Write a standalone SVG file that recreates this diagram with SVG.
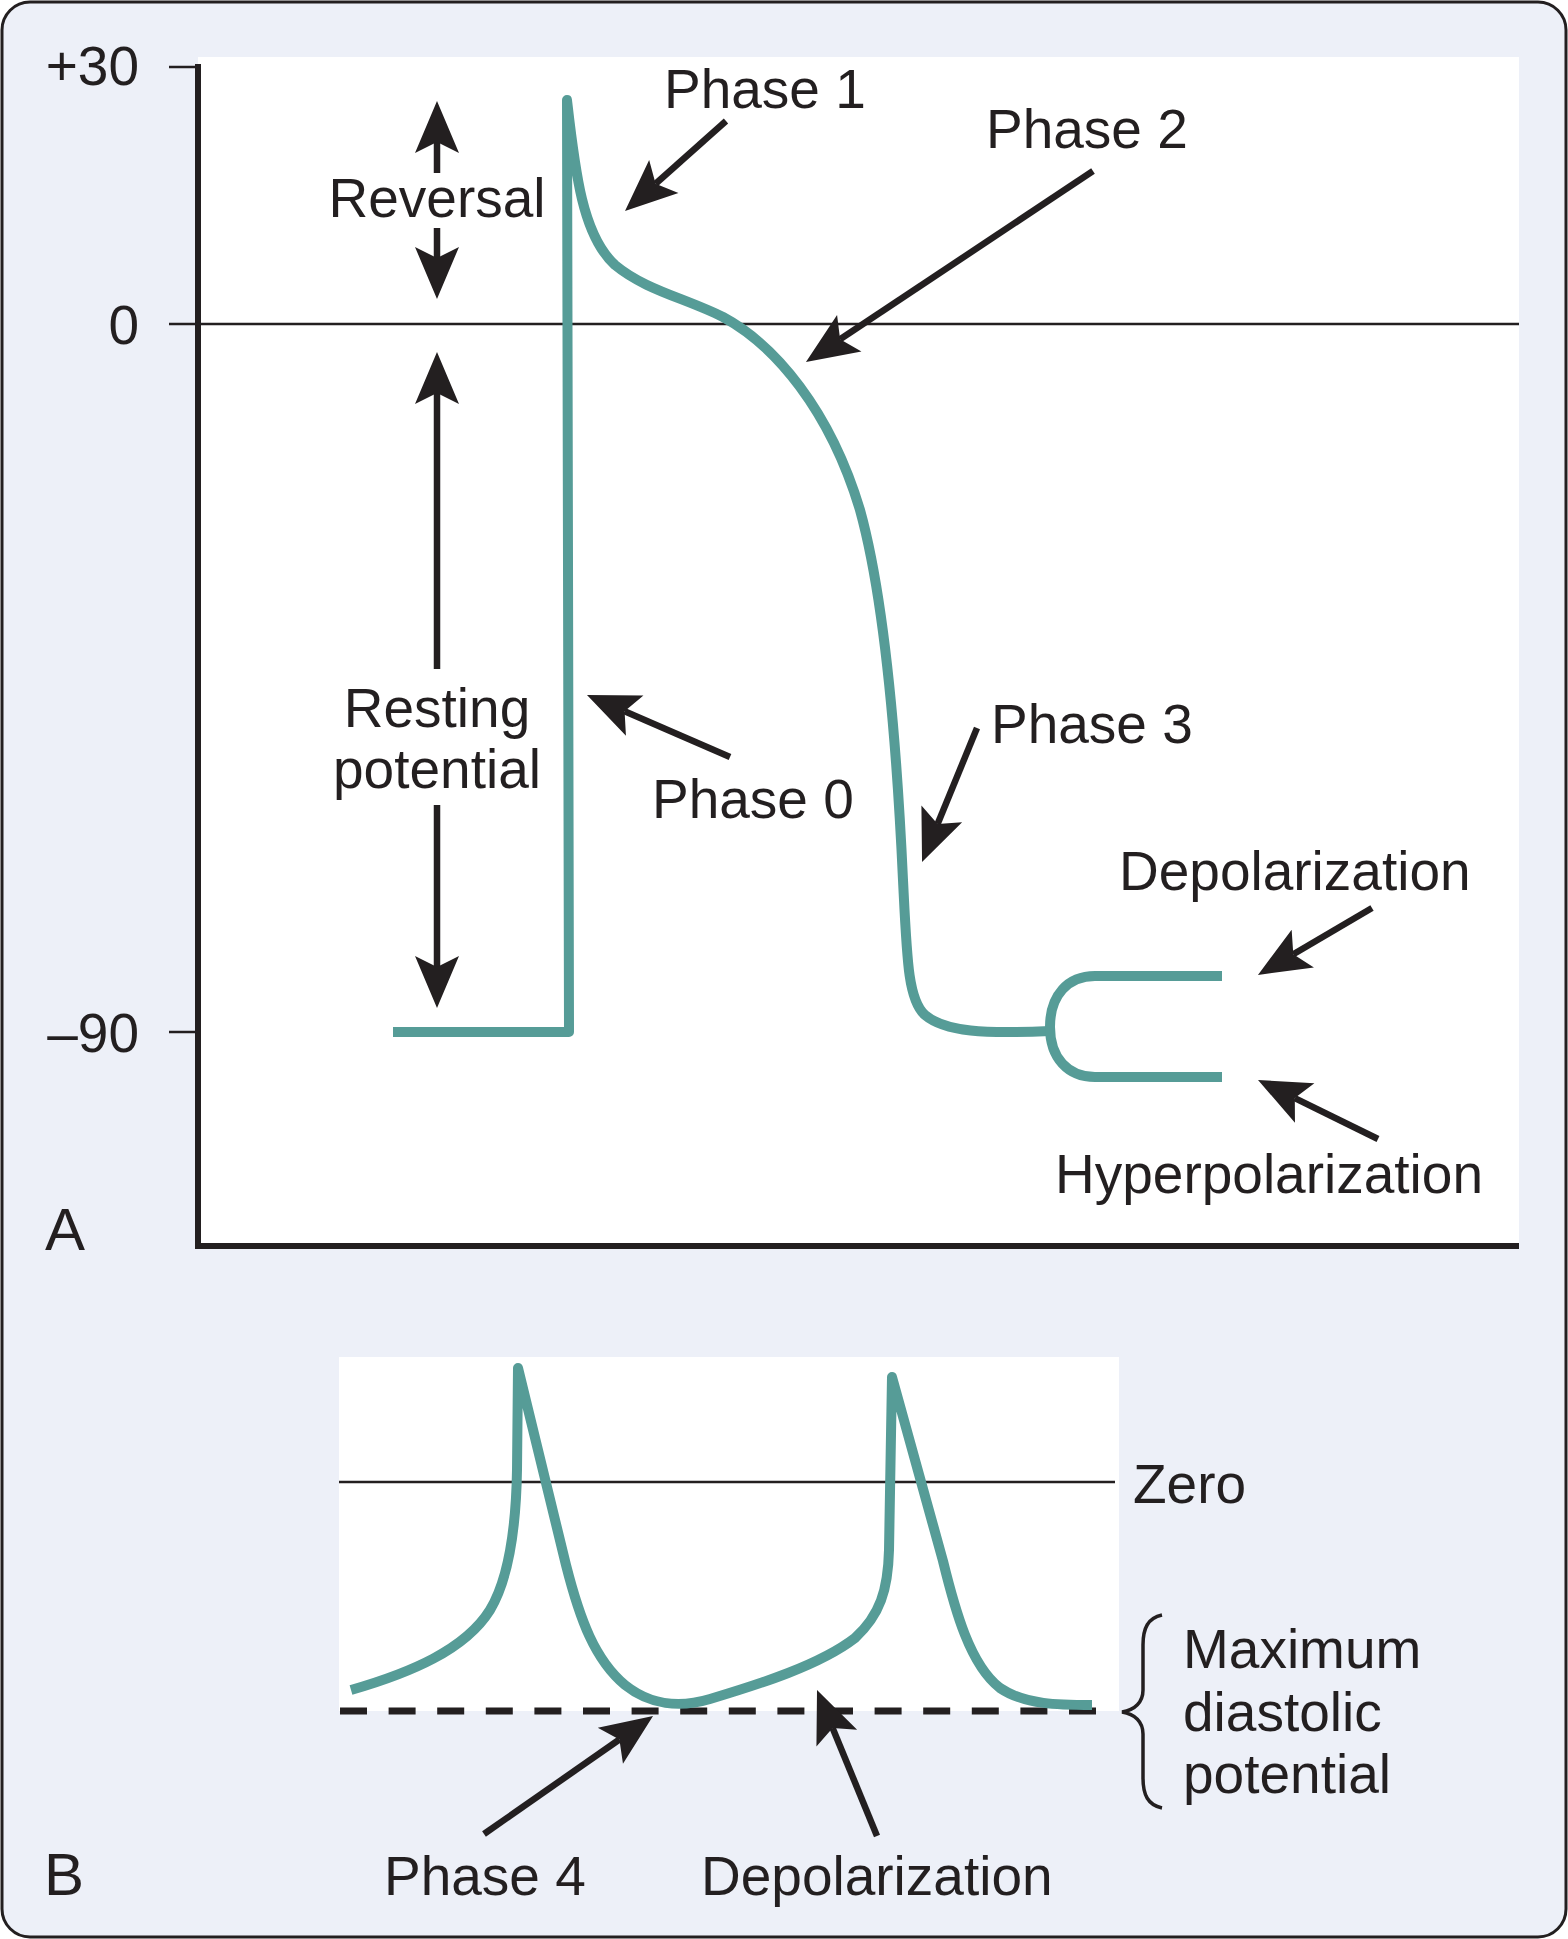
<svg xmlns="http://www.w3.org/2000/svg" width="1568" height="1939" viewBox="0 0 1568 1939">
<defs>
<style>
.t{font-family:"Liberation Sans",Arial,Helvetica,sans-serif;font-size:55px;fill:#231F20}
.big{font-size:60px}
.e{text-anchor:end}
.m{text-anchor:middle}
.teal{fill:none;stroke:#569C97;stroke-width:10;stroke-linejoin:round}
.ax{stroke:#231F20;stroke-width:6;fill:none}
.thin{stroke:#231F20;stroke-width:2.5;fill:none}
.arr{stroke:#231F20;stroke-width:6.5;fill:none;marker-end:url(#ah)}
</style>
<marker id="ah" viewBox="-12 -23 54 46" markerWidth="54" markerHeight="46" refX="0" refY="0" orient="auto" markerUnits="userSpaceOnUse">
<path d="M41,0 L-11,-22 L0,0 L-11,22 Z" fill="#231F20"/>
</marker>
</defs>
<rect id="frame" x="2" y="2" width="1564" height="1935" rx="28" fill="#EDF0F8" stroke="#231F20" stroke-width="3"/>

<g id="panelA">
<rect x="198" y="57" width="1321" height="1189" fill="#FFFFFF"/>
<line class="thin" x1="198" y1="324" x2="1519" y2="324"/>
<line class="ax" x1="198" y1="64" x2="198" y2="1246"/>
<line class="ax" x1="195" y1="1246" x2="1519" y2="1246"/>
<line class="thin" x1="169" y1="67" x2="198" y2="67" stroke-width="3"/>
<line class="thin" x1="169" y1="324" x2="198" y2="324" stroke-width="3"/>
<line class="thin" x1="169" y1="1032" x2="198" y2="1032" stroke-width="3"/>
<text class="t e" x="139" y="85">+30</text>
<text class="t e" x="139" y="344">0</text>
<text class="t e" x="139" y="1052">–90</text>
<text class="t big" x="45" y="1250">A</text>
</g>

<g id="actionPotential">
<path class="teal" d="M393 1032 L569 1032 L567 100 C575 170 582 235 615 265 C645 290 685 298 723 317 C775 345 830 410 860 510 C885 600 897 750 903 880 C907 960 908 1000 925 1015 C945 1032 985 1034 1050 1031"/>
<path class="teal" d="M1222 976 L1095 976 C1068 976 1050 995 1050 1027 C1050 1058 1068 1077 1095 1077 L1222 1077"/>
</g>

<g id="labelsA">
<text class="t m" x="437" y="217">Reversal</text>
<text class="t m" x="437" y="727">Resting</text>
<text class="t m" x="437" y="788">potential</text>
<text class="t" x="664" y="108">Phase 1</text>
<text class="t" x="986" y="148">Phase 2</text>
<text class="t" x="652" y="818">Phase 0</text>
<text class="t" x="991" y="743">Phase 3</text>
<text class="t" x="1119" y="890">Depolarization</text>
<text class="t" x="1055" y="1193">Hyperpolarization</text>
</g>

<g id="panelB">
<rect x="339" y="1357" width="780" height="354" fill="#FFFFFF"/>
<line class="thin" x1="339" y1="1482" x2="1115" y2="1482"/>
<line x1="340" y1="1711" x2="1097" y2="1711" stroke="#231F20" stroke-width="7" stroke-dasharray="27 21.6"/>
<path class="teal" d="M351 1690 C410 1673 465 1650 490 1610 C508 1580 516 1530 517 1470 L518 1368 L566 1565 C580 1620 595 1660 625 1685 C650 1705 680 1708 710 1699 C760 1684 820 1665 855 1638 C880 1615 888 1590 889 1550 L892 1377 L943 1561 C955 1610 970 1665 1000 1688 C1025 1705 1060 1705 1092 1705"/>
<path d="M1162 1615 C1148 1618 1143 1628 1143 1645 L1143 1690 C1143 1702 1135 1710 1122 1712 C1135 1714 1143 1722 1143 1734 L1143 1778 C1143 1795 1148 1805 1162 1808" fill="none" stroke="#231F20" stroke-width="3.5"/>
<text class="t" x="1133" y="1503">Zero</text>
<text class="t" x="1183" y="1668">Maximum</text>
<text class="t" x="1183" y="1731">diastolic</text>
<text class="t" x="1183" y="1793">potential</text>
<text class="t big" x="44" y="1895">B</text>
<text class="t" x="384" y="1895">Phase 4</text>
<text class="t" x="701" y="1895">Depolarization</text>
</g>

<g id="connectors">
<line class="arr" x1="437" y1="173" x2="437" y2="142"/>
<line class="arr" x1="437" y1="228" x2="437" y2="258"/>
<line class="arr" x1="437" y1="669" x2="437" y2="393"/>
<line class="arr" x1="437" y1="805" x2="437" y2="967"/>
<line class="arr" x1="726" y1="121" x2="655.6" y2="183.8"/>
<line class="arr" x1="1093" y1="171" x2="840.1" y2="339.3"/>
<line class="arr" x1="730" y1="757" x2="624.6" y2="711.3"/>
<line class="arr" x1="977" y1="728" x2="937.6" y2="824.1"/>
<line class="arr" x1="1372" y1="908" x2="1293.3" y2="954.2"/>
<line class="arr" x1="1378" y1="1139" x2="1294.8" y2="1098.1"/>
<line class="arr" x1="484" y1="1834" x2="619.4" y2="1739.5"/>
<line class="arr" x1="877" y1="1836" x2="832.6" y2="1728"/>
</g>
</svg>
